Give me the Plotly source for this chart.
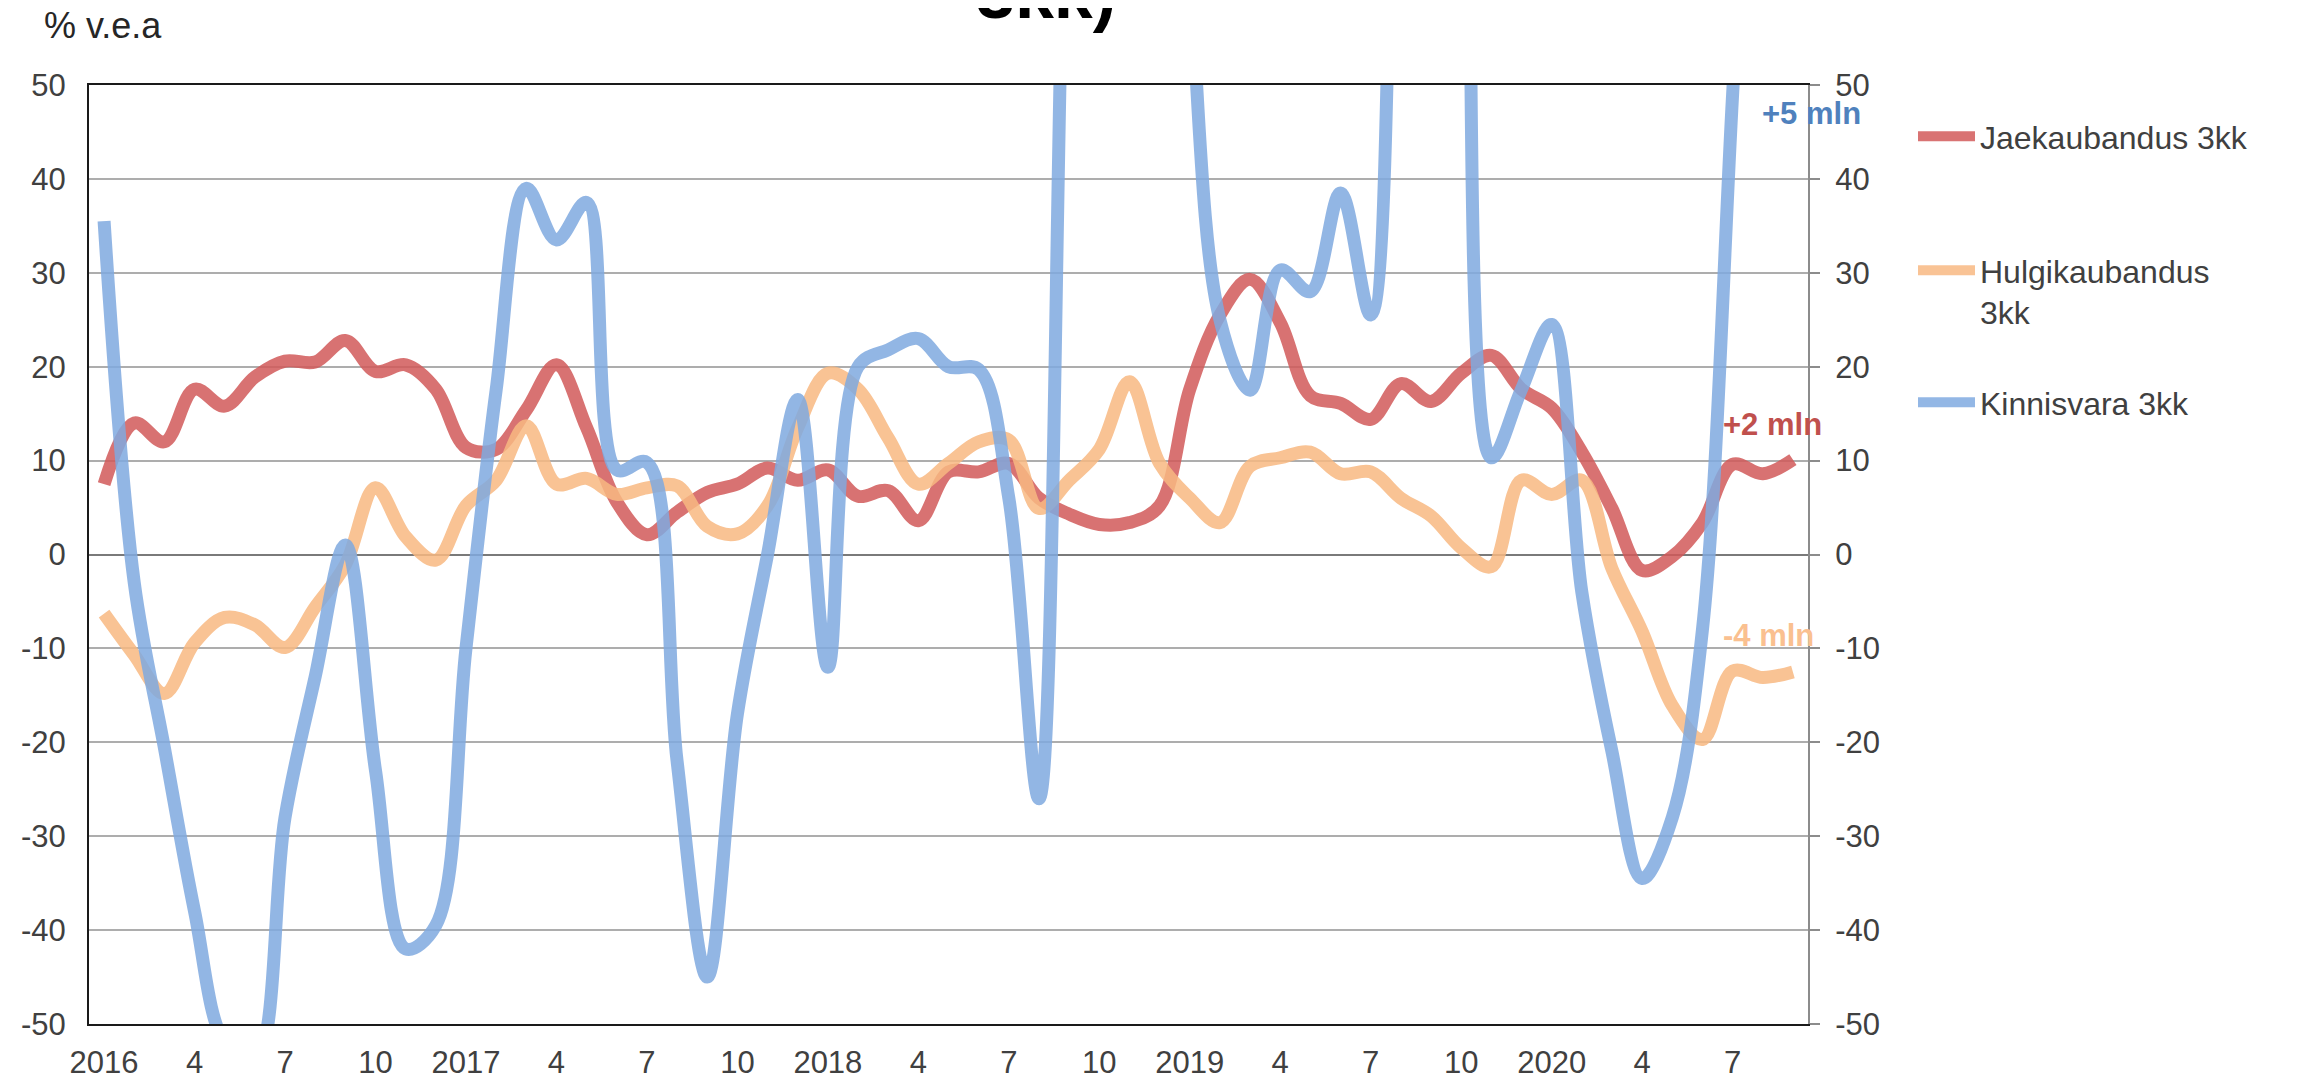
import plotly.graph_objects as go

# months Jan 2016 .. Sep 2020 as category index
month_idx = list(range(57))
tick_pos = list(range(0, 57, 3))
tick_text = ['2016', '4', '7', '10', '2017', '4', '7', '10', '2018', '4', '7', '10',
             '2019', '4', '7', '10', '2020', '4', '7']
y_ticks = list(range(-50, 51, 10))
y_tick_text = [str(v) for v in y_ticks]

# % y/y, 3-month sums
jaekaubandus = [7.5, 14.0, 12.0, 17.6, 15.8, 18.9, 20.6, 20.5, 22.8, 19.5,
                20.2, 17.6, 11.4, 11.2, 15.4, 20.2, 13.5, 5.6, 2.1, 4.5,
                6.6, 7.5, 9.2, 7.9, 9.0, 6.2, 6.8, 3.6, 8.8, 8.8,
                9.7, 6.0, 4.3, 3.2, 3.4, 5.2, 17.6, 25.5, 29.3, 24.7,
                16.9, 16.1, 14.4, 18.2, 16.3, 19.3, 21.2, 17.6, 15.6, 10.9,
                4.9, -1.7, -0.2, 3.4, 9.6, 8.6, 10.1]
hulgikaubandus = [-6.3, -10.7, -14.8, -9.4, -6.7, -7.5, -9.9, -5.6, -1.1, 7.1,
                  1.9, -0.6, 5.2, 7.9, 13.7, 7.5, 8.1, 6.4, 7.1, 7.3,
                  3.0, 2.2, 5.2, 13.5, 19.3, 17.6, 12.4, 7.5, 9.7, 12.0,
                  12.2, 4.9, 7.9, 11.2, 18.4, 9.7, 6.0, 3.4, 9.4, 10.3,
                  10.9, 8.6, 8.8, 6.0, 4.1, 0.7, -1.3, 7.9, 6.4, 7.9,
                  -1.5, -8.2, -16.1, -19.7, -12.4, -13.1, -12.5]
kinnisvara = [35.5, -3.0, -20.6, -38.0, -52.0, -54.0, -28.0, -13.0, 1.0, -23.0,
              -42.0, -39.5, -10.0, 17.5, 39.0, 33.5, 37.5, 9.0, 9.8, -22.0,
              -45.0, -17.0, 0.0, 16.5, -12.0, 20.0, 21.8, 23.0, 20.0, 19.7,
              6.0, -26.0, 85.0, 130.0, 140.0, 120.0, 62.0, 25.0, 17.5, 30.3,
              28.0, 38.5, 25.5, 110.0, 150.0, 120.0, 10.3, 17.6, 24.5, -4.0,
              -21.0, -34.5, -28.0, -8.0, 49.0, 110.0, 140.0]

series_names = ['Jaekaubandus 3kk', 'Hulgikaubandus<br>3kk', 'Kinnisvara 3kk']
series_colors = ['rgb(210,90,90)', 'rgb(248,185,130)', 'rgb(128,170,224)']
legend_ids = ['legend', 'legend2', 'legend3']

FONT = 'Liberation Sans, Arial, sans-serif'
TXT = '#404040'

W, H = 2304, 1080
OFF = 8  # page body margin
# plot area on screen: x 89..1808, y 85..1024
L, T = 89 - OFF, 85 - OFF
R, B = W - (1808 - OFF), H - (1024 - OFF)
ph = H - T - B
pw = W - L - R


def py(p):
    # screen pixel row -> paper y
    return 1 - (p - OFF - T) / ph


def px_(p):
    return (p - OFF - L) / pw


fig = go.Figure()
for vals, name, col, lg in zip([jaekaubandus, hulgikaubandus, kinnisvara],
                               series_names, series_colors, legend_ids):
    fig.add_trace(go.Scatter(
        x=month_idx, y=vals, name=name, mode='lines',
        line=dict(color=col, width=13, shape='spline', smoothing=1),
        opacity=0.85, legend=lg))

# invisible trace to keep the right axis alive
fig.add_trace(go.Scatter(x=[0], y=[0], yaxis='y2', mode='markers',
                         marker=dict(opacity=0), showlegend=False, hoverinfo='skip'))

leg_common = dict(xanchor='left', yanchor='top', font=dict(family=FONT, size=32, color=TXT),
                  bgcolor='rgba(0,0,0,0)', itemwidth=57, valign='top', borderwidth=0)
fig.update_layout(
    legend=dict(x=px_(1913), y=py(109), **leg_common),
    legend2=dict(x=px_(1913), y=py(243), **leg_common),
    legend3=dict(x=px_(1913), y=py(375), **leg_common),
)

tick_font = dict(family=FONT, size=31, color=TXT)
fig.update_layout(
    width=W, height=H,
    margin=dict(l=L, r=R, t=T, b=B, autoexpand=False),
    paper_bgcolor='white', plot_bgcolor='white',
    font=dict(family=FONT, size=31, color=TXT),
    xaxis=dict(range=[-0.5, 56.5], tickmode='array', tickvals=tick_pos, ticktext=tick_text,
               showgrid=False, zeroline=False, showline=True, linecolor='#1a1a1a', linewidth=2,
               mirror=True, ticks='', ticklabelstandoff=10, automargin=False, tickfont=tick_font),
    yaxis=dict(range=[-50, 50], tickmode='array', tickvals=y_ticks, ticktext=y_tick_text,
               showgrid=True, gridcolor='#ADADAD', gridwidth=2,
               zeroline=True, zerolinecolor='#7A7A7A', zerolinewidth=2,
               showline=True, linecolor='#1a1a1a', linewidth=2, ticks='', ticklabelstandoff=15,
               automargin=False, tickfont=tick_font),
    yaxis2=dict(range=[-50, 50], tickmode='array', tickvals=y_ticks, ticktext=y_tick_text,
                overlaying='y', side='right', anchor='x',
                showgrid=False, zeroline=False, showline=True, linecolor='#8C8C8C', linewidth=2,
                ticks='outside', ticklen=10, tickwidth=2, tickcolor='#8C8C8C', ticklabelstandoff=9,
                automargin=False, tickfont=tick_font),
    showlegend=True,
)

# series-end notes
notes = [('+5 mln', '#4F81BD', 54.9, 47.0),
         ('+2 mln', '#C0504D', 53.6, 13.8),
         ('-4 mln', '#FAC090', 53.6, -8.6)]
for txt, col, xv, yv in notes:
    fig.add_annotation(x=xv, y=yv, xref='x', yref='y', text='<b>' + txt + '</b>', showarrow=False,
                       xanchor='left', yanchor='middle',
                       font=dict(family=FONT, size=31, color=col))

fig.add_annotation(x=px_(42), y=py(25), xref='paper', yref='paper', text='% v.e.a', showarrow=False,
                   xanchor='left', yanchor='middle', font=dict(family=FONT, size=36, color='#262626'))
# title, only its bottom edge is inside the picture
fig.add_annotation(x=px_(1046), y=py(35), xref='paper', yref='paper', text='<b>3kk)</b>', showarrow=False,
                   xanchor='center', yanchor='bottom', font=dict(family=FONT, size=70, color='black'))

fig.write_html('out.html')
